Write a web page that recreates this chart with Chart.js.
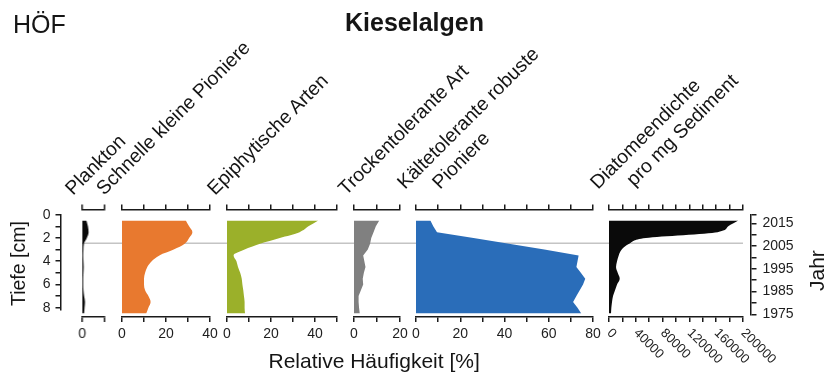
<!DOCTYPE html>
<html><head><meta charset="utf-8">
<script src="https://cdn.jsdelivr.net/npm/chart.js@4"></script>
<style>
html,body{margin:0;padding:0;background:#fff;}
#root{position:relative;width:836px;height:376px;overflow:hidden;font-family:"Liberation Sans",Arial,sans-serif;color:#151515;}
#root canvas{position:absolute;top:0;}
.lbl{position:absolute;width:0;height:0;transform-origin:0 0;}
.lbl span{position:absolute;left:0;top:-0.8465em;line-height:1;white-space:nowrap;}
</style></head><body><div id="root"></div>
<script>
// ---------------- data ----------------
const depths    = [0.5, 1, 1.5, 2, 2.5, 3, 3.5, 4, 4.5, 5, 5.5, 6, 6.5, 7, 7.5, 8, 8.5];
const plankton  = [1.8, 2.5, 2.8, 2.0, 0.7, 0.5, 0.4, 0.5, 0.6, 0.5, 0.4, 0.4, 0.5, 0.8, 1.2, 1.0, 0.8];
const pioniere  = [29, 30.5, 32, 30.5, 28.5, 23.5, 17, 13.5, 11.5, 10.5, 10, 10, 10.5, 12, 13, 12, 11];
const epiphyten = [41.5, 37, 33, 24, 15, 8, 3, 4.3, 5, 6, 6.7, 7, 7.4, 7.7, 8, 8, 8.2];
const trocken   = [11, 9.5, 8.5, 7.5, 7, 6, 4, 4.5, 5, 4.3, 3.8, 4, 3, 2, 2, 2.2, 2.5];
const kaelte    = [6.5, 7.8, 9.5, 26, 42, 58, 73.5, 73, 72.5, 74.5, 76.5, 75.5, 74, 72.5, 71, 73, 74.7];
const dichte    = [193000, 178000, 162000, 55000, 30000, 19000, 14500, 12000, 10500, 13000, 16000, 12000, 9000, 6000, 4500, 3500, 3000];
const markerDepth = 2.45;

const depthTicks  = [0, 1, 2, 3, 4, 5, 6, 7, 8];
const depthLabels = [0, 2, 4, 6, 8];
const yearTicks   = [1975, 1980, 1985, 1990, 1995, 2000, 2005, 2010, 2015];
const yearLabels  = [1975, 1985, 1995, 2005, 2015];

const planktonTicks = [0, 10];                 const planktonLabels = [0];
const pioniereTicks = [0, 10, 20, 30, 40];     const pioniereLabels = [0, 20, 40];
const epiphytenTicks = [0, 10, 20, 30, 40, 50]; const epiphytenLabels = [0, 20, 40];
const trockenTicks = [0, 10, 20];              const trockenLabels = [0, 20];
const kaelteTicks = [0, 10, 20, 30, 40, 50, 60, 70, 80]; const kaelteLabels = [0, 20, 40, 60, 80];
const dichteTicks = [0, 20000, 40000, 60000, 80000, 100000, 120000, 140000, 160000, 180000, 200000];
const dichteLabels = [0, 40000, 80000, 120000, 160000, 200000];

const titleText = 'Kieselalgen';
const siteText = 'HÖF';
const xTitle = 'Relative Häufigkeit [%]';
const depthTitle = 'Tiefe [cm]';
const yearTitle = 'Jahr';
const panelNames = ['Plankton', 'Schnelle kleine Pioniere', 'Epiphytische Arten', 'Trockentolerante Art',
                    'Kältetolerante robuste', 'Pioniere', 'Diatomeendichte', 'pro mg Sediment'];

// ---------------- layout / style ----------------
const W = 836, H = 376;
const AX = '#1a1a1a', TXT = '#1e1e1e';
const FONT = '"Liberation Sans", Arial, sans-serif';
const TICK_SIZE = 14;
const PANEL_TOP = 210, PANEL_BOTTOM = 316.5;
const D0 = 214.7, PX_CM = 11.625;
const depthAt = px => (px - D0) / PX_CM;
const yMin = depthAt(PANEL_TOP), yMax = depthAt(PANEL_BOTTOM);
const root = document.getElementById('root');

function makeCanvas(left, width) {
  const c = document.createElement('canvas');
  c.width = width; c.height = H;
  c.style.left = left + 'px'; c.style.width = width + 'px'; c.style.height = H + 'px';
  root.appendChild(c);
  return c;
}
const baseOpts = {responsive:false, animation:false, devicePixelRatio:1, events:[],
  plugins:{legend:{display:false}, tooltip:{enabled:false}}};

function gridOpts() {
  return {display:true, drawOnChartArea:false, drawTicks:true, tickLength:5.5,
          lineWidth:1.5, tickWidth:1.5, tickColor:AX, color:AX};
}

// background reference line
(function(){
  const left = 82, right = 743;
  const c = makeCanvas(left, right - left);
  new Chart(c, {type:'line',
    data:{datasets:[{data:[{x:0, y:markerDepth}, {x:1, y:markerDepth}], borderColor:'#c4c4c4', borderWidth:1.5, pointRadius:0, fill:false}]},
    options:Object.assign({}, baseOpts, {
      layout:{padding:{left:0, right:0, top:PANEL_TOP, bottom:H - PANEL_BOTTOM}},
      scales:{x:{type:'linear', min:0, max:1, display:false},
              y:{type:'linear', reverse:true, min:yMin, max:yMax, display:false}}
    })});
})();

function rotLabelPlugin(labels) {
  return {id:'rotLabels', afterDraw(chart) {
    const s = chart.scales.x, ctx = chart.ctx;
    ctx.save();
    ctx.fillStyle = TXT;
    ctx.font = '13px ' + FONT;
    ctx.textAlign = 'left'; ctx.textBaseline = 'middle';
    labels.forEach(v => {
      const x = s.getPixelForValue(v);
      ctx.save(); ctx.translate(x, s.top + 14.5); ctx.rotate(Math.PI / 4);
      ctx.fillText(String(v), 0, 0); ctx.restore();
    });
    ctx.restore();
  }};
}

function panel(cfg) {
  const padL = 20, padR = cfg.padR || 20;
  const c = makeCanvas(cfg.left - padL, cfg.right - cfg.left + padL + padR);
  const axis = () => ({type:'linear', min:0, max:cfg.max,
    afterBuildTicks: s => { s.ticks = cfg.ticks.map(v => ({value:v})); },
    grid:gridOpts(), border:{display:true, color:AX, width:1.5}});
  const ds = {data: depths.map((d, i) => ({x:cfg.values[i], y:d})), xAxisID:'x', yAxisID:'y',
    fill:'origin', backgroundColor:cfg.color, borderColor:cfg.color, borderWidth:0,
    pointRadius:0, pointHoverRadius:0, tension:0,
    cubicInterpolationMode: cfg.smooth ? 'monotone' : 'default'};
  new Chart(c, {type:'line', data:{datasets:[ds]},
    options:Object.assign({}, baseOpts, {
      indexAxis:'y',
      layout:{padding:{left:padL, right:padR, top:PANEL_TOP - 8, bottom:H - PANEL_BOTTOM - 30}},
      scales:{
        x:Object.assign(axis(), {position:'bottom',
          ticks:{display:!cfg.rot, autoSkip:false, maxRotation:0, minRotation:0, padding:4, color:TXT,
                 font:{family:FONT, size:TICK_SIZE}, callback: v => cfg.labels.includes(v) ? String(v) : ''},
          afterFit: s => { s.height = 30; }}),
        x2:Object.assign(axis(), {position:'top', ticks:{display:false}, afterFit: s => { s.height = 8; }}),
        y:{type:'linear', reverse:true, min:yMin, max:yMax, display:false}
      }
    }),
    plugins: cfg.rot ? [rotLabelPlugin(cfg.labels)] : []
  });
}

panel({left:82.3, right:105, max:10, ticks:planktonTicks, labels:planktonLabels, values:plankton, color:'#0a0a0a', smooth:true});
panel({left:122, right:210, max:40, ticks:pioniereTicks, labels:pioniereLabels, values:pioniere, color:'#E8792F', smooth:true});
panel({left:227, right:337, max:50, ticks:epiphytenTicks, labels:epiphytenLabels, values:epiphyten, color:'#9BB02A', smooth:true});
panel({left:354, right:400, max:20, ticks:trockenTicks, labels:trockenLabels, values:trocken, color:'#808080', smooth:false});
panel({left:416, right:593, max:80, ticks:kaelteTicks, labels:kaelteLabels, values:kaelte, color:'#2A6DB9', smooth:false});
panel({left:609, right:743, max:200000, ticks:dichteTicks, labels:dichteLabels, values:dichte, color:'#0a0a0a', smooth:true, rot:true, padR:45});

// depth axis (left)
(function(){
  const axMax = 8.2;
  const c = makeCanvas(0, 75);
  new Chart(c, {type:'line', data:{datasets:[]},
    options:Object.assign({}, baseOpts, {
      layout:{padding:{left:0, right:0, top:D0, bottom:H - (D0 + axMax * PX_CM)}},
      scales:{
        x:{type:'linear', min:0, max:1, display:false},
        y:{type:'linear', position:'left', reverse:true, min:0, max:axMax,
           afterBuildTicks: s => { s.ticks = depthTicks.map(v => ({value:v})); },
           ticks:{autoSkip:false, padding:5, color:TXT, font:{family:FONT, size:TICK_SIZE},
                  callback: v => depthLabels.includes(v) ? String(v) : ''},
           grid:gridOpts(), border:{display:true, color:AX, width:1.5},
           afterFit: s => { s.width = 61; }}
      }
    })});
})();

// year axis (right)
(function(){
  const yTop = 2018.8, y0px = 314.3, pxYr = 2.275;
  const top = y0px - (yTop - 1975) * pxYr;
  const c = makeCanvas(740, 96);
  new Chart(c, {type:'line', data:{datasets:[]},
    options:Object.assign({}, baseOpts, {
      layout:{padding:{left:0, right:0, top:top, bottom:H - y0px}},
      scales:{
        x:{type:'linear', min:0, max:1, display:false},
        y:{type:'linear', position:'right', min:1975, max:yTop,
           afterBuildTicks: s => { s.ticks = yearTicks.concat([s.max]).map(v => ({value:v})); },
           ticks:{autoSkip:false, padding:6, color:TXT, font:{family:FONT, size:TICK_SIZE},
                  callback: v => yearLabels.includes(v) ? String(v) : ''},
           grid:gridOpts(), border:{display:true, color:AX, width:1.5},
           afterFit: s => { s.width = 85; }}
      }
    })});
})();

// ---------------- text ----------------
function addText(text, x, y, size, rot, extra) {
  const w = document.createElement('div');
  w.className = 'lbl';
  w.style.left = x + 'px'; w.style.top = y + 'px';
  if (rot) w.style.transform = 'rotate(' + rot + 'deg)';
  const s = document.createElement('span');
  s.textContent = text;
  s.style.fontSize = size + 'px';
  if (extra) Object.assign(s.style, extra);
  w.appendChild(s);
  root.appendChild(w);
}
addText(siteText, 13, 33, 25, 0);
addText(titleText, 345, 31.5, 25, 0, {fontWeight:'bold'});
addText(xTitle, 268.5, 368, 21, 0);
addText(depthTitle, 25, 306, 19.5, -90);
addText(yearTitle, 824, 291, 21, -90);
const namePos = [[73,196],[104,196],[215,196],[346,196],[405,190],[440,190],[598,190],[634,187]];
panelNames.forEach((t, i) => addText(t, namePos[i][0], namePos[i][1], 19.5, -45));
</script></body></html>
